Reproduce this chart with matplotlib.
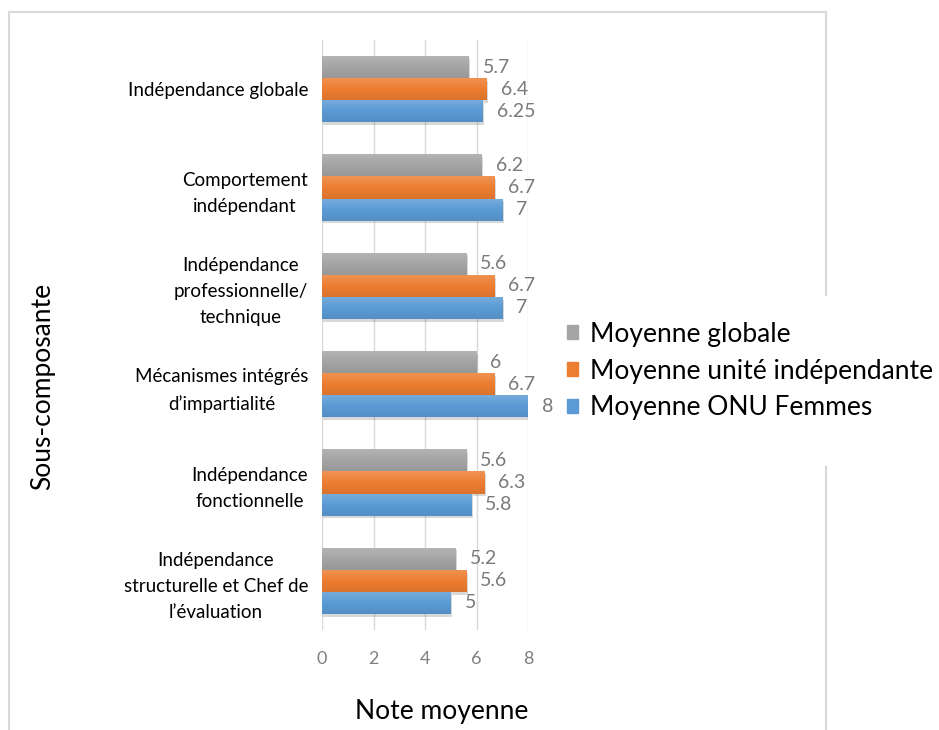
import numpy as np
import matplotlib
matplotlib.use("Agg")
from matplotlib import pyplot as plt
from matplotlib.lines import Line2D
from matplotlib.patches import Rectangle
from matplotlib import patheffects as pe
from matplotlib.colors import to_rgb, LinearSegmentedColormap

plt.rcParams['font.family'] = ['Lato', 'DejaVu Sans']

# categories, top to bottom
categories = [
    "Indépendance globale",
    "Comportement\nindépendant",
    "Indépendance\nprofessionnelle/\ntechnique",
    "Mécanismes intégrés\nd\u2019impartialité",
    "Indépendance\nfonctionnelle",
    "Indépendance\nstructurelle et Chef de\nl\u2019évaluation",
]
series_names = ["Moyenne globale", "Moyenne unité indépendante", "Moyenne ONU Femmes"]
moy_globale = [5.7, 6.2, 5.6, 6, 5.6, 5.2]
moy_unite = [6.4, 6.7, 6.7, 6.7, 6.3, 5.6]
moy_onu = [6.25, 7, 7, 8, 5.8, 5]
labels_onu = ["6.25", "7", "7", "8", "5.8", "5"]
colors = ["#A5A5A5", "#ED7D31", "#5B9BD5"]
xticks = [0, 2, 4, 6, 8]

fig = plt.figure(figsize=(9.39, 7.30), dpi=100)
ax = fig.add_axes([322/939, 1 - 630/730, (528-322)/939, (630-40)/730])

n = len(categories)
ypos = np.arange(n)
h = 0.225
all_series = [moy_globale, moy_unite, moy_onu]
label_texts = [[f"{v:g}" for v in moy_globale], [f"{v:g}" for v in moy_unite], labels_onu]


def shade(c, f):
    r = np.array(to_rgb(c))
    if f > 0:
        return tuple(r + (1 - r) * f)
    return tuple(r * (1 + f))


for i, (vals, col) in enumerate(zip(all_series, colors)):
    offs = (i - 1) * h
    bars = ax.barh(ypos + offs, vals, height=h, color=col, zorder=3,
                   path_effects=[pe.SimplePatchShadow(offset=(1, -2), alpha=0.22, shadow_rgbFace='#505050'),
                                 pe.Normal()])
    cmap = LinearSegmentedColormap.from_list("g", [shade(col, 0.18), col, shade(col, -0.08)])
    grad = np.linspace(0, 1, 64).reshape(-1, 1)
    for b, v, txt in zip(bars, vals, label_texts[i]):
        y0 = b.get_y()
        im = ax.imshow(grad, cmap=cmap, aspect='auto', zorder=4,
                       extent=[0, v, y0 + h, y0], interpolation='bilinear')
        im.set_clip_path(b)
        ax.annotate(txt, (v, y0 + h / 2), xytext=(10, 0), textcoords='offset points',
                    va='center', ha='left', fontsize=14, color='#7A7A7A', zorder=5,
                    annotation_clip=False)

ax.set_xlim(0, 8)
ax.set_ylim(n - 0.5, -0.5)
ax.set_xticks(xticks)
ax.set_xticklabels([str(t) for t in xticks])
ax.set_yticks(ypos)
ax.set_yticklabels(categories)
for t in ax.get_yticklabels():
    t.set_multialignment('center')
    t.set_linespacing(1.65)
ax.tick_params(axis='y', length=0, pad=10, labelsize=13.5, labelcolor='black')
ax.tick_params(axis='x', length=0, pad=15, labelsize=13, labelcolor='#7F7F7F')
ax.grid(axis='x', color='#D9D9D9', linewidth=1, zorder=0)
for s in ax.spines.values():
    s.set_visible(False)

fig.text(442/939, 1 - 712/730, "Note moyenne", ha='center', va='center', fontsize=19)
fig.text(43/939, 1 - 386/730, "Sous-composante", ha='center', va='center', rotation=90, fontsize=19)

# outer frame of the chart (right side broken by the legend)
fc = '#D9D9D9'
X = lambda px: px / 939
Y = lambda py: 1 - py / 730
fig.add_artist(Line2D([X(9), X(9)], [0, Y(12)], color=fc, lw=1.5, transform=fig.transFigure))
fig.add_artist(Line2D([X(9), X(826)], [Y(12), Y(12)], color=fc, lw=1.5, transform=fig.transFigure))
fig.add_artist(Line2D([X(826), X(826)], [Y(295), Y(12)], color=fc, lw=1.5, transform=fig.transFigure))
fig.add_artist(Line2D([X(826), X(826)], [0, Y(467)], color=fc, lw=1.5, transform=fig.transFigure))

handles = [Rectangle((0, 0), 1, 1, color=c) for c in colors]
leg = fig.legend(handles, series_names, loc='center left', bbox_to_anchor=(X(562), Y(371)),
                 fontsize=19, frameon=False,
                 handlelength=0.42, handleheight=0.42, handletextpad=0.45, labelspacing=0.45,
                 borderpad=0.2, borderaxespad=0)

fig.savefig("out.png", dpi=100)
